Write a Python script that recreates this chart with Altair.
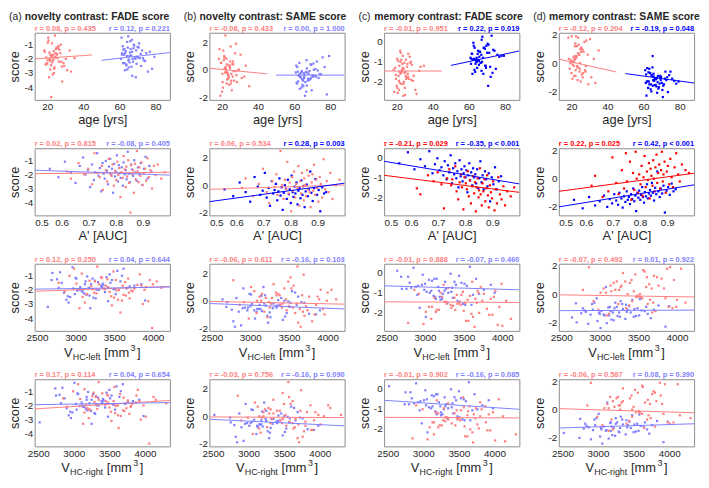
import altair as alt
import pandas as pd

# ---------------- data: young adults (red) ----------------
AGE_Y = [22.3, 19.6, 25.1, 21.4, 27.2, 23.8, 20.5, 24.2, 26.4, 18.3,
         23.1, 21.9, 29.4, 22.6, 25.7, 20.2, 24.8, 31.0, 22.0, 19.1,
         26.1, 23.4, 21.2, 28.3, 24.5, 22.8, 20.7, 25.4, 33.2, 23.6,
         21.6, 27.5, 24.0, 19.4, 22.2, 26.7, 30.3, 23.3, 21.0, 25.9,
         20.0, 24.3, 22.5, 28.0, 18.6, 23.0, 26.2, 21.7, 35.1, 24.6,
         22.1, 20.3, 27.8, 25.2, 23.7, 32.4, 21.3, 24.9, 29.0, 22.7]
APRIME_Y = [0.621, 0.634, 0.662, 0.683, 0.698, 0.712, 0.721, 0.733, 0.741, 0.748,
            0.752, 0.763, 0.768, 0.774, 0.779, 0.784, 0.788, 0.793, 0.797, 0.802,
            0.806, 0.809, 0.813, 0.817, 0.821, 0.826, 0.829, 0.833, 0.836, 0.839,
            0.842, 0.846, 0.849, 0.851, 0.854, 0.857, 0.861, 0.864, 0.867, 0.871,
            0.874, 0.878, 0.881, 0.884, 0.887, 0.891, 0.895, 0.899, 0.903, 0.908,
            0.912, 0.917, 0.922, 0.928, 0.934, 0.941, 0.947, 0.955, 0.968, 0.981]
VHCL_Y = [3420, 3150, 3680, 3890, 3300, 3550, 2980, 3760, 3240, 4050,
          3470, 3610, 3090, 3830, 3380, 2860, 3520, 3940, 3200, 3650,
          3330, 3720, 3010, 3580, 4110, 3270, 3490, 3800, 3120, 3640,
          3440, 2920, 3700, 3360, 3990, 3180, 3560, 3850, 3050, 3410,
          3620, 3280, 3910, 3500, 2780, 3740, 3340, 3600, 3220, 4000,
          3460, 3080, 3690, 3390, 3870, 3250, 3530, 3960, 3140, 3670]
VHCR_Y = [3480, 3230, 3650, 3980, 3350, 3620, 3060, 3820, 3190, 4120,
          3530, 3560, 3150, 3900, 3440, 2900, 3480, 4010, 3290, 3710,
          3280, 3800, 3090, 3630, 4300, 3330, 3570, 3760, 3210, 3700,
          3500, 2990, 3780, 3310, 4060, 3260, 3620, 3920, 3130, 3470,
          3690, 3350, 3870, 3580, 2850, 3800, 3400, 3660, 3170, 4150,
          3520, 3150, 3740, 3450, 3940, 3310, 3590, 3880, 3210, 3730]
NOV_FADE_Y = [-1.8, -2.3, -1.2, -2.0, -1.6, -2.7, -0.5, -1.9, -2.2, -1.4,
              -3.1, -1.7, -2.5, -0.9, -1.95, -2.1, -1.3, -2.8, -1.75, -2.4,
              -1.1, -2.05, -1.55, -3.6, -1.85, -2.25, -0.7, -1.65, -2.9, -1.45,
              -2.15, -1.0, -2.6, -1.9, -4.7, -1.35, -2.0, -1.7, -3.3, -1.25,
              -2.35, -0.35, -1.8, -2.55, -1.5, -2.1, -1.15, -2.75, -1.95, -1.6,
              -2.45, -0.85, -2.2, -1.7, -3.0, -1.4, -2.05, -1.3, -2.3, -1.85]
NOV_SAME_Y = [-0.2, 0.5, -0.8, 0.1, 1.2, -0.5, -1.3, 0.3, -0.1, 0.8,
              -0.7, 2.5, 0.0, -1.0, 0.4, -0.3, 1.7, -0.6, 0.2, -1.9,
              0.6, -0.4, 1.0, -0.9, 0.1, -0.2, 1.4, -1.5, 0.3, -0.6,
              0.9, -0.1, -1.1, 0.5, 0.0, -0.8, 1.1, -0.3, 0.7, -0.5,
              -1.6, 0.2, 0.8, -0.4, 1.5, -0.7, 0.4, -0.2, -1.2, 0.6,
              0.1, -0.9, 1.9, -0.3, 0.3, -0.5, 0.9, -1.0, 0.0, 0.4]
MEM_FADE_Y = [-1.55, -1.85, -0.9, -1.2, -0.75, -1.35, -2.55, -1.05, -0.6, -1.4,
              -1.1, -0.45, -1.7, -2.1, -1.25, -0.85, -1.5, -2.6, -1.0, -1.3,
              -1.6, -0.7, -1.95, -1.15, -2.3, -1.45, -0.95, -1.8, -1.25, -2.7,
              -1.5, -1.05, -2.0, -1.65, -0.55, -1.85, -2.4, -1.3, -1.7, -1.1,
              -2.2, -1.55, -0.9, -1.9, -2.5, -1.4, -1.75, -2.05, -1.2, -2.65,
              -1.6, -2.3, -1.0, -1.85, -2.1, -1.45, -2.4, -1.7, -1.95, -1.5]
MEM_SAME_Y = [-0.5, 0.2, -1.3, -0.9, 1.5, -0.3, -1.1, 0.6, -0.7, 1.8,
              -0.2, 1.2, -1.5, 0.4, -0.8, 1.9, 0.0, -1.0, 0.3, -0.4,
              0.9, -1.2, 0.1, 1.6, -0.6, 0.5, -0.1, 1.1, -1.4, 0.7,
              0.2, -0.5, 1.3, 0.0, -0.9, 0.8, 1.7, -0.3, 0.4, 1.0,
              -0.7, 0.6, 1.9, -0.2, 0.3, 1.2, -1.0, 0.5, 0.9, -0.4,
              1.4, 0.1, -0.6, 0.8, 1.8, 0.3, -0.2, 1.0, 0.6, 0.4]

# ---------------- data: older adults (blue) ----------------
AGE_O = [63.2, 67.5, 61.8, 70.4, 65.1, 72.6, 64.3, 68.9, 62.5, 75.8,
         66.2, 63.9, 69.7, 61.2, 73.5, 65.8, 67.1, 64.6, 71.3, 62.9,
         68.2, 66.5, 78.1, 63.5, 70.9, 65.3, 61.6, 69.1, 67.8, 74.2,
         64.1, 66.9, 72.1, 62.2, 68.5, 65.6, 76.9, 63.1, 70.1, 67.3,
         61.4, 69.5, 64.9, 73.1, 66.7, 62.7, 71.8, 65.0, 68.0, 79.4,
         63.7, 67.0, 60.9, 70.7, 64.4, 74.9, 66.0, 62.0, 69.3, 65.5]
APRIME_O = [0.556, 0.588, 0.612, 0.634, 0.651, 0.667, 0.679, 0.688, 0.697, 0.705,
            0.712, 0.719, 0.724, 0.731, 0.736, 0.741, 0.746, 0.751, 0.755, 0.759,
            0.763, 0.767, 0.771, 0.775, 0.779, 0.783, 0.786, 0.790, 0.794, 0.797,
            0.801, 0.804, 0.808, 0.811, 0.815, 0.818, 0.822, 0.826, 0.829, 0.833,
            0.837, 0.840, 0.844, 0.848, 0.852, 0.856, 0.860, 0.864, 0.868, 0.873,
            0.877, 0.882, 0.887, 0.892, 0.898, 0.904, 0.910, 0.917, 0.924, 0.932]
VHCL_O = [3120, 2850, 3400, 2970, 3260, 3580, 2700, 3050, 3330, 2910,
          3470, 3180, 2780, 3620, 3090, 3350, 2640, 3220, 3510, 2990,
          3150, 3700, 2880, 3290, 3440, 3020, 3850, 3190, 2760, 3380,
          3060, 3540, 2930, 3250, 3660, 3110, 2820, 3420, 3000, 3300,
          3760, 3140, 2960, 3490, 3230, 2690, 3360, 3080, 3600, 3170,
          2900, 3450, 3270, 3010, 3900, 3200, 2800, 3520, 3130, 3340]
VHCR_O = [3180, 2900, 3460, 3030, 3300, 3640, 2740, 3120, 3390, 2960,
          3530, 3240, 2820, 3690, 3150, 3410, 2520, 3270, 3570, 3040,
          3200, 3760, 2930, 3340, 3500, 3080, 3920, 3250, 2800, 3440,
          3110, 3600, 2980, 3310, 3720, 3170, 2870, 3480, 3050, 3350,
          3830, 3190, 3010, 3550, 3290, 2750, 3420, 3130, 3660, 3220,
          2950, 3510, 3320, 3060, 3980, 3250, 2840, 3580, 3180, 3400]
NOV_FADE_O = [-1.6, -2.2, -1.1, -1.9, -2.6, -1.4, -0.8, -2.0, -1.7, -2.9,
              -1.3, -2.4, -1.85, -0.5, -2.1, -1.55, -3.2, -1.2, -1.95, -2.3,
              -1.05, -1.75, -2.7, -1.45, -0.9, -2.05, -1.6, -3.3, -1.25, -2.15,
              -1.8, -0.65, -2.5, -1.35, -1.9, -2.25, -1.5, -2.8, -1.15, -2.0,
              -1.7, -2.35, -0.4, -1.95, -2.55, -1.3, -1.65, -2.1, -1.0, -1.85,
              -2.45, -1.5, -2.0, -1.2, -2.75, -1.6, -0.75, -2.3, -1.4, -1.8]
NOV_SAME_O = [-0.3, -0.8, 0.2, -0.5, -1.2, 0.6, -0.1, -0.7, -0.4, 0.9,
              -0.9, -0.2, -1.5, 0.3, -0.6, -0.35, 0.1, -1.1, -0.45, 0.5,
              -0.75, -0.15, -1.8, -0.55, 0.0, -0.25, -1.0, 0.4, -0.65, -0.3,
              -1.3, 0.7, -0.5, -0.85, -0.1, -0.6, 0.2, -1.4, -0.4, -0.2,
              -0.95, 0.35, -0.7, -0.05, -1.6, -0.45, 0.05, -0.8, -0.3, 1.0,
              -0.55, -1.15, -0.2, 0.45, -0.7, -0.35, -1.9, -0.15, -0.6, -0.5]
MEM_FADE_O = [-0.3, 0.25, -0.6, -0.1, -0.45, 0.3, -0.8, -0.35, -0.05, -0.65,
              -0.5, -0.9, -0.2, -1.1, -0.4, -0.75, 0.1, -1.3, -0.55, -0.85,
              -0.3, -1.05, -0.7, -1.5, -0.15, -0.95, -0.6, -1.2, -0.8, -0.45,
              -1.0, -0.65, -1.75, -0.9, -0.3, -1.15, -0.75, -1.4, -0.55, -1.0,
              -0.85, -1.3, -0.6, -1.55, -1.05, -0.2, -1.25, -0.9, -1.6, -0.7,
              -1.1, -1.45, -0.8, -2.2, -1.0, -1.35, -0.5, -1.6, -1.2, -0.95]
MEM_SAME_O = [-1.5, -2.1, -1.3, -1.9, -1.6, -1.2, -2.0, -1.45, -1.75, -1.1,
              -1.55, -1.85, -1.0, -1.4, -2.05, -1.25, -1.65, -0.9, -1.5, -1.3,
              -1.8, -1.1, -1.45, -0.7, -1.6, -1.2, -2.3, -1.0, -1.35, -0.85,
              -1.5, -1.15, -0.6, -1.3, -1.7, -0.95, -1.25, -0.4, -1.4, -1.05,
              -0.8, -1.2, -0.3, -1.0, -1.55, -0.65, -1.1, 0.5, -0.9, -1.3,
              -0.7, -1.05, -0.5, -2.4, -0.85, -0.6, -1.15, -0.35, -0.9, -0.75]

# ---------------- regression lines: (y at line start, y at line end) ----------------
FIT_RED = [
    [(-2.00, -1.72), (0.11, -0.30), (-1.46, -1.46), (0.28, -0.63)],
    [(-1.95, -1.85), (-0.30, 0.02), (-0.90, -1.75), (-0.90, 0.38)],
    [(-2.10, -1.75), (-0.05, -0.25), (-1.45, -1.48), (-0.05, -0.20)],
    [(-2.25, -1.65), (-0.05, -0.10), (-1.45, -1.48), (0.07, -0.22)],
]
FIT_BLUE = [
    [(-2.10, -1.55), (-0.39, -0.39), (-1.18, -0.46), (-0.74, -1.41)],
    [(-1.70, -2.05), (-1.20, 0.15), (-0.20, -1.33), (-2.00, -0.44)],
    [(-1.95, -1.80), (-0.20, -0.60), (-0.65, -0.85), (-1.17, -1.13)],
    [(-1.95, -1.80), (-0.22, -0.70), (-0.60, -1.05), (-1.30, -1.00)],
]
RP_RED = [
    ["r = 0.08, p = 0.435", "r = -0.08, p = 0.433", "r = -0.01, p = 0.951", "r = -0.12, p = 0.204"],
    ["r = 0.02, p = 0.815", "r = 0.06, p = 0.534", "r = -0.21, p = 0.029", "r = 0.22, p = 0.025"],
    ["r = 0.12, p = 0.250", "r = -0.06, p = 0.611", "r = -0.01, p = 0.888", "r = -0.07, p = 0.492"],
    ["r = 0.17, p = 0.114", "r = -0.03, p = 0.756", "r = -0.01, p = 0.902", "r = -0.06, p = 0.587"],
]
RP_BLUE = [
    ["r = 0.12, p = 0.221", "r = 0.00, p = 1.000", "r = 0.22, p = 0.019", "r = -0.19, p = 0.048"],
    ["r = -0.08, p = 0.405", "r = 0.28, p = 0.003", "r = -0.35, p < 0.001", "r = 0.42, p < 0.001"],
    ["r = 0.04, p = 0.644", "r = -0.16, p = 0.103", "r = -0.07, p = 0.460", "r = 0.01, p = 0.922"],
    ["r = 0.04, p = 0.654", "r = -0.16, p = 0.090", "r = -0.16, p = 0.085", "r = 0.08, p = 0.390"],
]
SIG_RED = [[False, False, False, False], [False, False, True, True],
           [False, False, False, False], [False, False, False, False]]
SIG_BLUE = [[False, False, True, True], [False, True, True, True],
            [False, False, False, False], [False, False, False, False]]
PANEL_LETTERS = ["(a)", "(b)", "(c)", "(d)"]
PANEL_TITLES = ["novelty contrast: FADE score", "novelty contrast: SAME score",
                "memory contrast: FADE score", "memory contrast: SAME score"]

young = pd.DataFrame(dict(g="young", age=AGE_Y, aprime=APRIME_Y, vl=VHCL_Y, vr=VHCR_Y,
                          nF=NOV_FADE_Y, nS=NOV_SAME_Y, mF=MEM_FADE_Y, mS=MEM_SAME_Y))
old = pd.DataFrame(dict(g="old", age=AGE_O, aprime=APRIME_O, vl=VHCL_O, vr=VHCR_O,
                        nF=NOV_FADE_O, nS=NOV_SAME_O, mF=MEM_FADE_O, mS=MEM_SAME_O))
df = pd.concat([young, old], ignore_index=True)

XSPEC = [
    dict(field="age", dom=[13, 88], ticks=[20, 40, 60, 80], title="age [yrs]", red=(13, 45), blue=(50, 88)),
    dict(field="aprime", dom=[0.5, 1.0], ticks=[0.5, 0.6, 0.7, 0.8, 0.9], title="A' [AUC]", red=(0.5, 1.0), blue=(0.5, 1.0)),
    dict(field="vl", dom=[2470, 4220], ticks=[2500, 3000, 3500, 4000], title="", sub="HC-left", red=(2470, 4220), blue=(2470, 4220)),
    dict(field="vr", dom=[2450, 4350], ticks=[2500, 3000, 3500, 4000], title="", sub="HC-right", red=(2450, 4350), blue=(2450, 4350)),
]
YSPEC = [
    dict(field="nF", dom=[-4.9, -0.15], ticks=[-4, -3, -2, -1]),
    dict(field="nS", dom=[-2.2, 2.7], ticks=[-2, 0, 2]),
    dict(field="mF", dom=[-2.9, 0.45], ticks=[-2, -1, 0]),
    dict(field="mS", dom=[-2.6, 2.15], ticks=[-2, 0, 2]),
]

W, H = 137, 68
FONT = "Liberation Sans"
TXT = "#262626"
RED, LRED = "#ff0000", "#ff7f7f"
BLUE, LBLUE = "#0000ff", "#7f7fff"


def text_layer(s, x, y, size, weight="normal", color=TXT, align="left", baseline="alphabetic"):
    return alt.Chart(pd.DataFrame({"t": [s]})).mark_text(
        font=FONT, fontSize=size, fontWeight=weight, color=color, align=align, baseline=baseline
    ).encode(x=alt.value(x), y=alt.value(y), text="t:N")


def panel(r, c):
    xs, ys = XSPEC[r], YSPEC[c]
    xsc = alt.Scale(domain=xs["dom"], nice=False, zero=False)
    ysc = alt.Scale(domain=ys["dom"], nice=False, zero=False)
    xax = alt.Axis(values=xs["ticks"], title=xs["title"], labelExpr="toString(datum.value)")
    yax = alt.Axis(values=ys["ticks"], title="score", labelExpr="toString(datum.value)")
    rc = RED if SIG_RED[r][c] else LRED
    bc = BLUE if SIG_BLUE[r][c] else LBLUE
    layers = []
    for g, col in (("old", bc), ("young", rc)):
        layers.append(
            alt.Chart(df).transform_filter(alt.datum.g == g)
            .mark_square(size=5, color=col, opacity=1)
            .encode(x=alt.X(f"{xs['field']}:Q", scale=xsc, axis=xax),
                    y=alt.Y(f"{ys['field']}:Q", scale=ysc, axis=yax))
        )
    for xr, yv, col in ((xs["red"], FIT_RED[r][c], rc), (xs["blue"], FIT_BLUE[r][c], bc)):
        fit = pd.DataFrame({"x": list(xr), "y": list(yv)})
        layers.append(
            alt.Chart(fit).mark_line(color=col, strokeWidth=1, clip=True)
            .encode(x=alt.X("x:Q", scale=xsc, axis=xax), y=alt.Y("y:Q", scale=ysc, axis=yax))
        )
    layers.append(text_layer(RP_RED[r][c], 0, -2, 7.5, "bold", rc, "left"))
    layers.append(text_layer(RP_BLUE[r][c], W, -2, 7.5, "bold", bc, "right"))
    if r == 0:
        layers.append(text_layer(PANEL_LETTERS[c], -26, -13, 10.5))
        layers.append(text_layer(PANEL_TITLES[c], -10, -13, 10.5, "bold"))
    if "sub" in xs:
        sub = xs["sub"]
        v_w, sub_w, gap, mm_w, sup_w, br_w = 8.9, {"HC-left": 28.0, "HC-right": 33.5}[sub], 3.8, 25.3, 5.0, 3.6
        total = v_w + sub_w + gap + mm_w + sup_w + br_w + 3
        x0 = W / 2 - total / 2
        layers.append(text_layer("V", x0, H + 26, 13))
        layers.append(text_layer(sub, x0 + v_w, H + 29, 9))
        layers.append(text_layer("[mm", x0 + v_w + sub_w + gap, H + 26, 13))
        layers.append(text_layer("3", x0 + v_w + sub_w + gap + mm_w + 1.5, H + 20, 9))
        layers.append(text_layer("]", x0 + v_w + sub_w + gap + mm_w + sup_w + 3.0, H + 26, 13))
    return alt.layer(*layers).properties(width=W, height=H)


panels = [panel(r, c) for r in range(4) for c in range(4)]

chart = (
    alt.concat(*panels, columns=4, spacing={"row": 49, "column": 40}, bounds="flush")
    .properties(padding=0)
    .configure_view(stroke="#8c8c8c", strokeWidth=1)
    .configure_axis(labelFont=FONT, titleFont=FONT, labelFontSize=10, titleFontSize=13,
                    labelColor=TXT, titleColor=TXT, titleFontWeight="normal", grid=False,
                    ticks=False, domain=False, labelPadding=2, titlePadding=2)
)
chart.save("out.html", embed_options={"renderer": "svg", "actions": False})
